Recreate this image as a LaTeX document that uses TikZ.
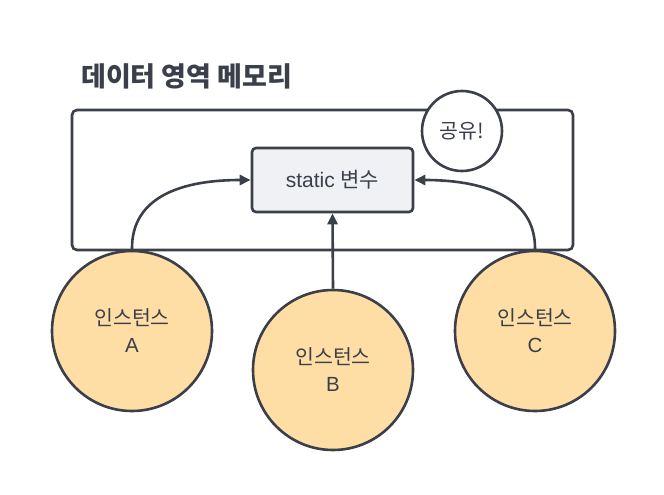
\documentclass[tikz,border=0pt]{standalone}
\usepackage{fontspec}
\setmainfont{Liberation Sans}
\newfontfamily\kr{Noto Sans CJK KR}
\usetikzlibrary{arrows.meta,positioning}
\definecolor{ink}{HTML}{3A3F4A}
\definecolor{instfill}{HTML}{FFDEA5}
\definecolor{boxfill}{HTML}{F0F1F4}

\begin{document}
\begin{tikzpicture}[x=1pt, y=-1pt, >={Triangle[length=11pt,width=10pt]},
    region/.style={draw=ink, line width=2.6pt, rounded corners=5pt, inner sep=0pt},
    instance/.style={circle, draw=ink, fill=instfill, line width=2.6pt, minimum size=160pt,
        inner sep=0pt, align=center, text=ink, font=\fontsize{20.5}{27}\selectfont},
    staticbox/.style={draw=ink, fill=boxfill, line width=2.6pt, rounded corners=4pt,
        minimum width=161pt, minimum height=64pt, text=ink, font=\fontsize{21}{25}\selectfont},
    link/.style={->, draw=ink, line width=2.6pt}]
    \useasboundingbox (0,0) rectangle (664,495);

    % --- 제목 ---
    \node[anchor=west, inner sep=0pt, text=ink, font=\kr\bfseries\fontsize{27}{32}\selectfont]
    (title) at (81,76) {데이터 영역 메모리};

    % --- 데이터 영역 ---
    \node[region, minimum width=501pt, minimum height=140pt] (area) at (322.5,180) {};
    \node[circle, draw=ink, fill=white, line width=2.6pt, minimum size=80pt, inner sep=0pt,
        text=ink, font=\kr\fontsize{20.5}{25}\selectfont] (shared) at (462,131) {공유!};
    \node[staticbox] (staticvar) at (332.5,180) {static {\kr 변수}};

    % --- 인스턴스 ---
    \node[instance] (instA) at (132,331) {{\kr 인스턴스}\\A};
    \node[instance] (instB) at (333,370) {{\kr 인스턴스}\\B};
    \node[instance] (instC) at (535,331) {{\kr 인스턴스}\\C};

    % --- 화살표 ---
    \draw[link] (instA.north) .. controls (131,195) and (185,180) .. (staticvar.west);
    \draw[link] (instB.north) -- (staticvar.south);
    \draw[link] (instC.north) .. controls (536,195) and (480,180) .. (staticvar.east);
\end{tikzpicture}
\end{document}
